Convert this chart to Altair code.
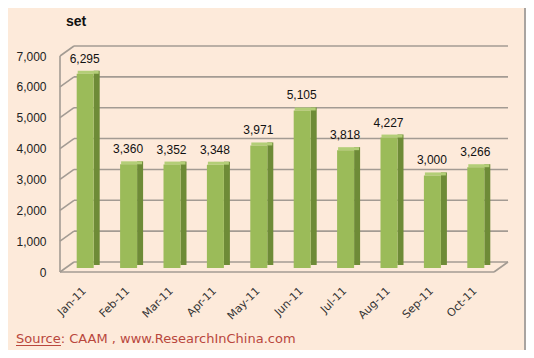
import altair as alt
import pandas as pd

months = ["Jan-11", "Feb-11", "Mar-11", "Apr-11", "May-11",
          "Jun-11", "Jul-11", "Aug-11", "Sep-11", "Oct-11"]
values = [6295, 3360, 3352, 3348, 3971, 5105, 3818, 4227, 3000, 3266]
ticks = [0, 1000, 2000, 3000, 4000, 5000, 6000, 7000]

W, H = 434, 216
DX, DY = 14, -10  # depth of the 3D box in pixels

bars = pd.DataFrame({"month": months, "value": values})
grid = pd.DataFrame({"tick": ticks})

BG = "#FDEADA"
GRID = "#A39B93"
FRONT = "#9BBB59"
SIDE = "#6E8B37"
TOP = "#B3CE77"

xenc = alt.X("month:N", sort=months, title=None,
             scale=alt.Scale(paddingInner=0, paddingOuter=0),
             axis=alt.Axis(domain=False, ticks=False, labelAngle=315,
                           labelAlign="right", labelBaseline="middle",
                           labelPadding=17, labelOffset=3,
                           labelFont="DejaVu Sans", labelFontSize=11,
                           labelColor="#333333"))
yscale = alt.Scale(domain=[0, 7000], nice=False)
yaxis = alt.Axis(values=ticks, format=",.0f", domain=False, ticks=False,
                 grid=False, labelPadding=14,
                 labelFont="Liberation Sans", labelFontSize=12,
                 labelColor="#222222")


def Y(field):
    return alt.Y(field, scale=yscale, title=None, axis=yaxis)


# back wall grid lines
back = alt.Chart(grid).mark_rule(color=GRID, strokeWidth=1.6, yOffset=DY).encode(
    y=Y("tick:Q"), x=alt.value(DX), x2=alt.value(W + DX))
# left wall diagonals
diag = alt.Chart(grid).mark_rule(color=GRID, strokeWidth=1.6, y2Offset=DY).encode(
    y=Y("tick:Q"), y2="tick:Q", x=alt.value(0), x2=alt.value(DX))
# left front edge
left = alt.Chart(pd.DataFrame({"a": [0], "b": [7000]})).mark_rule(
    color=GRID, strokeWidth=1.6).encode(y=Y("a:Q"), y2="b:Q", x=alt.value(0))
# floor front line and right diagonal
floor = alt.Chart(pd.DataFrame({"a": [0]})).mark_rule(
    color=GRID, strokeWidth=1.6).encode(y=Y("a:Q"), x=alt.value(0), x2=alt.value(W))
floor_r = alt.Chart(pd.DataFrame({"a": [0]})).mark_rule(
    color=GRID, strokeWidth=1.6, y2Offset=DY).encode(
    y=Y("a:Q"), y2="a:Q", x=alt.value(W), x2=alt.value(W + DX))

base = alt.Chart(bars)
side = base.mark_bar(color=SIDE, size=6, xOffset=15, yOffset=-7, y2Offset=-4).encode(
    x=xenc, y=Y("value:Q"))
top = base.mark_bar(color=TOP, size=21, xOffset=6.5, yOffset=-7, y2Offset=-4).encode(
    x=xenc, y=Y("value:Q"), y2="value:Q")
front = base.mark_bar(color=FRONT, size=17, xOffset=3.5, yOffset=-4, y2Offset=-4).encode(
    x=xenc, y=Y("value:Q"))
labels = base.mark_text(font="Liberation Sans", fontSize=12, color="#111111",
                        xOffset=3, yOffset=-19, baseline="middle").encode(
    x=xenc, y=Y("value:Q"), text=alt.Text("value:Q", format=","))

unit = alt.Chart(pd.DataFrame({"t": ["set"]})).mark_text(
    font="Liberation Sans", fontSize=14, fontWeight="bold", align="left",
    baseline="middle", color="#111111").encode(
    text="t:N", x=alt.value(6), y=alt.value(-34))

source = alt.Chart(pd.DataFrame({"t": ["Source: CAAM , www.ResearchInChina.com"]})).mark_text(
    font="DejaVu Sans", fontSize=13, align="left", baseline="alphabetic",
    color="#B9473D").encode(text="t:N", x=alt.value(-44), y=alt.value(287))
underline = alt.Chart(pd.DataFrame({"a": [0]})).mark_rule(
    color="#B9473D", strokeWidth=1).encode(
    x=alt.value(-44), x2=alt.value(1), y=alt.value(289.5))

border = alt.Chart(pd.DataFrame({"a": [0]})).mark_rule(
    color="#8C8C8C", strokeWidth=1.5).encode(
    x=alt.value(465), y=alt.value(-48), y2=alt.value(294))

chart = alt.layer(back, diag, left, floor, floor_r, side, top, front, labels,
                  unit, source, underline, border).properties(
    width=W, height=H,
    padding={"left": 52, "top": 48, "right": 32, "bottom": 78},
    autosize=alt.AutoSizeParams(type="none"),
    background=BG,
).configure_view(stroke=None)

chart.save("out.html", embed_options={"renderer": "svg", "actions": False})
